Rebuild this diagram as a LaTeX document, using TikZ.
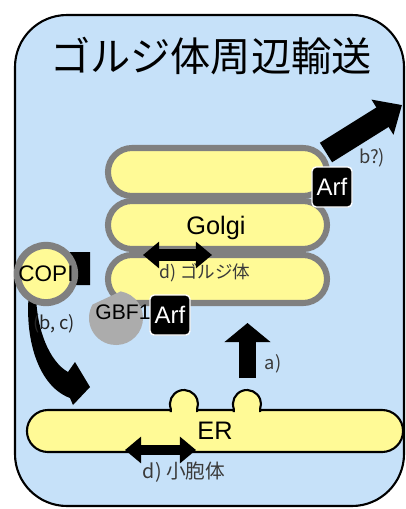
\documentclass[tikz,border=0pt]{standalone}
\usepackage{fontspec}
\setmainfont{Liberation Sans}
\newfontfamily\jpfont{Noto Sans CJK JP}
\usepackage{tikz}
\usetikzlibrary{arrows.meta, shapes.misc}
\def\fsize(#1){\fontsize{#1}{#1}\selectfont}
\definecolor{cellblue}{HTML}{C6E1F9}
\definecolor{membrane}{HTML}{FFFA96}
\definecolor{cisgray}{HTML}{808080}
\definecolor{labelgray}{HTML}{3A3A3A}
\tikzstyle{cellbox} = [draw=black, line width=1.5pt, fill=cellblue, rounded corners=1.3cm]
\tikzstyle{cisterna} = [rounded rectangle, draw=cisgray, line width=4.3pt, fill=membrane, minimum width=5.475cm, minimum height=1.2cm, inner sep=0pt]
\tikzstyle{erbody} = [rounded rectangle, draw=black, line width=1.5pt, fill=membrane, minimum width=9.4cm, minimum height=1.05cm, inner sep=0pt, font=\fsize(18)]
\tikzstyle{bud} = [draw=black, line width=1.5pt, fill=membrane]
\tikzstyle{arf} = [draw=white, line width=1pt, fill=black, text=white, rounded corners=3pt, minimum size=1cm, inner sep=0pt, font=\fsize(17)]
\tikzstyle{coat} = [circle, draw=cisgray, line width=5pt, fill=membrane, minimum size=1.375cm, inner sep=0pt, font=\fsize(16)]
\tikzstyle{lbl} = [text=labelgray, font=\jpfont\fsize(13)]
\tikzstyle{blockarrow} = [line width=0.425cm, -{Triangle[width=1.125cm, length=0.475cm]}]
\tikzstyle{bigarrow} = [line width=0.575cm, -{Triangle[width=1cm, length=0.575cm]}]
\tikzstyle{dblarrow} = [line width=0.3cm, {Triangle[width=0.64cm, length=0.4cm]}-{Triangle[width=0.64cm, length=0.4cm]}]

\begin{document}
\begin{tikzpicture}[x=0.025cm, y=-0.025cm]
      \useasboundingbox (0,0) rectangle (406,509);
      % cell outline and heading
      \draw[cellbox] (15,15) rectangle (404,506);
      \draw (211,56) node (title) [font=\jpfont\fsize(28.6)] {ゴルジ体周辺輸送};
      %%%%%%%%%%%%%%%%%%%%%%%%%%%%%%%%%%%%%%%
      % golgi stack
      \draw (217.5,172) node (cis1) [cisterna] {};
      \draw (217.5,225) node (cis2) [cisterna] {};
      \draw (217.5,279) node (cis3) [cisterna] {};
      \draw (216,228) node (golgi) [font=\fsize(18)] {Golgi};
      \draw (205,273) node (golgilbl) [lbl, font=\jpfont\fsize(12.5)] {d) ゴルジ体};
      \coordinate (gl) at (143,255);
      \coordinate (gr) at (212,255);
      \draw[dblarrow] (gl)--(gr);
      % exit to the right
      \coordinate (b0) at (326,152.5);
      \coordinate (b1) at (402,105);
      \draw[bigarrow] (b0)--(b1);
      \draw (372,158) node (blbl) [lbl] {b?)};
      %%%%%%%%%%%%%%%%%%%%%%%%%%%%%%%%%%%%%%%
      % ER with two buds
      \draw (215,431) node (er) [erbody] {ER};
      \draw[bud] (170.8,412) -- (170.8,408.8) arc[start angle=200, end angle=-20, radius=0.35cm] -- (197.2,412);
      \draw[bud] (233.8,412) -- (233.8,408.8) arc[start angle=200, end angle=-20, radius=0.35cm] -- (260.2,412);
      \coordinate (el) at (125,450);
      \coordinate (eright) at (196,450);
      \draw[dblarrow, line width=0.23cm] (el)--(eright);
      \draw (184,472) node (erlbl) [lbl, font=\jpfont\fsize(14)] {d) 小胞体};
      % anterograde
      \coordinate (a0) at (247.5,378);
      \coordinate (a1) at (247.5,323);
      \draw[blockarrow] (a0)--(a1);
      \draw (273,364) node (albl) [lbl] {a)};
      %%%%%%%%%%%%%%%%%%%%%%%%%%%%%%%%%%%%%%%
      % retrograde COPI route
      \fill (90,252) -- (45,252) -- (30,285) .. controls (23,330) and (35,385) .. (70,398)
            -- (73,405) -- (90,387) -- (75,362) -- (68,372)
            .. controls (50,362) and (36,330) .. (36,292) -- (60,285) -- (90,285) -- cycle;
      \draw (46,274) node (copi) [coat] {COPI};
      \draw (54,324) node (bclbl) [lbl, text=black!85] {(b, c)};
      % GBF1 and Arf
      \fill[gray!65] (120.7,291.4) arc[start angle=80, end angle=-210, radius=0.675cm] -- cycle;
      \draw (170,315) node (arf2) [arf] {Arf};
      \draw (332,187) node (arf1) [arf] {Arf};
      \draw (123,312) node (gbf) [font=\fsize(15)] {GBF1};
\end{tikzpicture}
\end{document}
